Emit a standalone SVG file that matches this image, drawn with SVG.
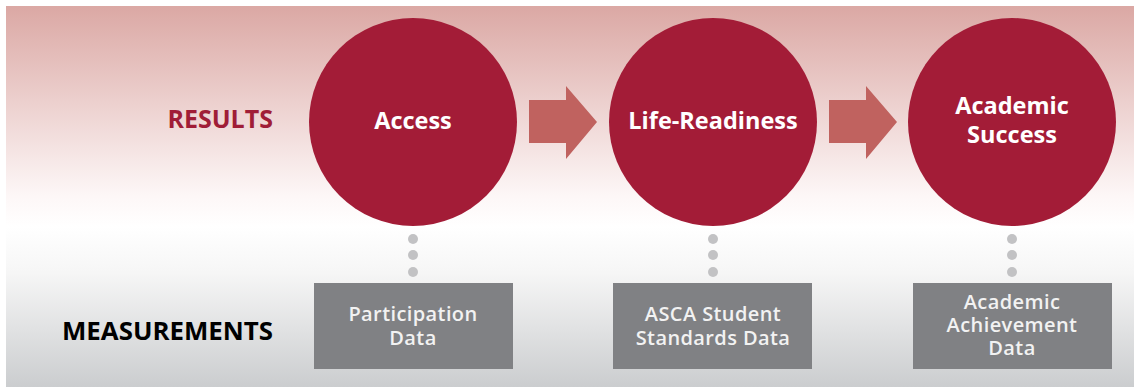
<svg xmlns="http://www.w3.org/2000/svg" width="1134" height="387" viewBox="0 0 1134 387">
<defs>
<linearGradient id="bg" x1="0" y1="0" x2="0" y2="1">
<stop offset="0" stop-color="#dba8a4"/>
<stop offset="0.5" stop-color="#fdf7f7"/>
<stop offset="0.58" stop-color="#ffffff"/>
<stop offset="0.7" stop-color="#f6f6f6"/>
<stop offset="1" stop-color="#cbcdcf"/>
</linearGradient>
<style>
.circ{fill:#a31c37}
.ctext{font-family:"Open Sans","Liberation Sans",sans-serif;font-weight:700;font-size:23.5px;fill:#ffffff;text-anchor:middle}
.box{fill:#808184}
.btext{font-family:"Open Sans","Liberation Sans",sans-serif;font-weight:600;font-size:20px;letter-spacing:0.4px;fill:#f2f2f2;text-anchor:middle}
.dot{fill:#c2c2c4}
.arrow{fill:#c0625f}
.lbl{font-family:"Open Sans","Liberation Sans",sans-serif;font-weight:700;font-size:25px;text-anchor:end}
</style>
</defs>
<rect x="6" y="6" width="1128" height="381" fill="url(#bg)"/>
<text class="lbl" x="273" y="128" fill="#a01d37">RESULTS</text>
<text class="lbl" x="273" y="340" fill="#000000" textLength="211" lengthAdjust="spacingAndGlyphs">MEASUREMENTS</text>
<g id="connectors">
<polygon class="arrow" points="529,100 566,100 566,86 597,122 566,159 566,143 529,143"/>
<polygon class="arrow" points="829,100 866,100 866,86 897,122 866,159 866,143 829,143"/>
<circle class="dot" cx="413" cy="239" r="5"/>
<circle class="dot" cx="413" cy="255" r="5"/>
<circle class="dot" cx="413" cy="272" r="5"/>
<circle class="dot" cx="713" cy="239" r="5"/>
<circle class="dot" cx="713" cy="255" r="5"/>
<circle class="dot" cx="713" cy="272" r="5"/>
<circle class="dot" cx="1012" cy="239" r="5"/>
<circle class="dot" cx="1012" cy="255" r="5"/>
<circle class="dot" cx="1012" cy="272" r="5"/>
</g>
<g id="access">
<circle class="circ" cx="413" cy="122" r="104"/>
<text class="ctext" x="413" y="129">Access</text>
</g>
<g id="life-readiness">
<circle class="circ" cx="713" cy="122" r="104"/>
<text class="ctext" x="713" y="129">Life-Readiness</text>
</g>
<g id="academic-success">
<circle class="circ" cx="1012" cy="122" r="104"/>
<text class="ctext" x="1012" y="114">Academic</text>
<text class="ctext" x="1012" y="143">Success</text>
</g>
<g id="participation-data">
<rect class="box" x="314" y="283" width="199" height="86"/>
<text class="btext" x="413" y="321">Participation</text>
<text class="btext" x="413" y="345">Data</text>
</g>
<g id="asca-data">
<rect class="box" x="613" y="283" width="199" height="86"/>
<text class="btext" x="713" y="321">ASCA Student</text>
<text class="btext" x="713" y="345">Standards Data</text>
</g>
<g id="academic-achievement-data">
<rect class="box" x="913" y="283" width="199" height="86"/>
<text class="btext" x="1012" y="309">Academic</text>
<text class="btext" x="1012" y="332">Achievement</text>
<text class="btext" x="1012" y="355">Data</text>
</g>
</svg>
